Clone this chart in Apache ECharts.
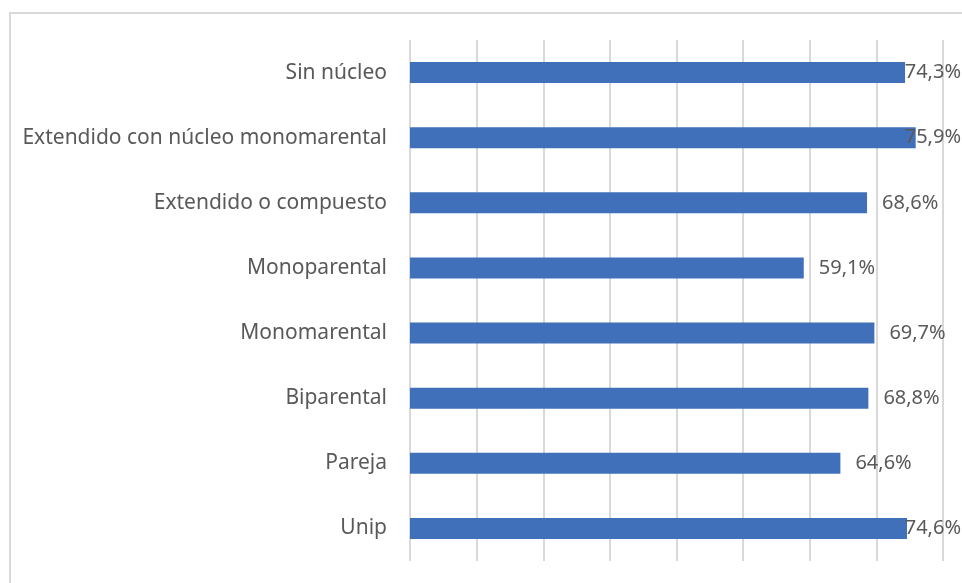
<!DOCTYPE html>
<html>
<head>
<meta charset="utf-8">
<script src="https://cdn.jsdelivr.net/npm/echarts@6/dist/echarts.min.js"></script>
<style>
  html, body { margin: 0; padding: 0; background: #fff; }
  #chart { width: 962px; height: 583px; }
</style>
</head>
<body>
<div id="chart"></div>
<script>
// categories top to bottom, as in the picture
const categories = [
  "Sin núcleo",
  "Extendido con núcleo monomarental",
  "Extendido o compuesto",
  "Monoparental",
  "Monomarental",
  "Biparental",
  "Pareja",
  "Unip"
];
const values = [74.3, 75.9, 68.6, 59.1, 69.7, 68.8, 64.6, 74.6];

const fmtPct = v => v.toFixed(1).replace(".", ",") + "%";

const chart = echarts.init(document.getElementById("chart"));

chart.setOption({
  backgroundColor: "#fff",
  animation: false,
  textStyle: { fontFamily: "Noto Sans" },
  // outer chart frame (partly cut off at right and bottom)
  graphic: [
    {
      type: "rect",
      shape: { x: 10, y: 13, width: 1000, height: 1000 },
      style: { fill: "none", stroke: "#d9d9d9", lineWidth: 2 },
      silent: true,
      z: -1
    }
  ],
  grid: { left: 410, right: 19, top: 40, bottom: 22, containLabel: false },
  xAxis: {
    type: "value",
    min: 0,
    max: 80,
    interval: 10,
    axisLabel: { show: false },
    axisLine: { show: false },
    axisTick: { show: false },
    splitLine: { show: true, lineStyle: { color: "#d9d9d9", width: 2 } }
  },
  yAxis: {
    type: "category",
    data: categories,
    inverse: true,
    axisLine: { show: false },
    axisTick: { show: false },
    axisLabel: { color: "#595959", fontSize: 21, margin: 23 }
  },
  series: [
    {
      type: "bar",
      data: values,
      barWidth: 21,
      itemStyle: { color: "#4170bb" },
      label: {
        show: true,
        position: "right",
        distance: 15,
        color: "#595959",
        fontSize: 20,
        formatter: p => fmtPct(p.value)
      },
      // keep labels inside the canvas, like the original
      labelLayout: params => {
        const r = params.labelRect;
        const maxRight = chart.getWidth() - 1;
        if (r.x + r.width > maxRight) {
          return {
            x: maxRight - r.width,
            y: r.y + r.height / 2,
            align: "left",
            verticalAlign: "middle"
          };
        }
        return {};
      }
    }
  ]
});
</script>
</body>
</html>
